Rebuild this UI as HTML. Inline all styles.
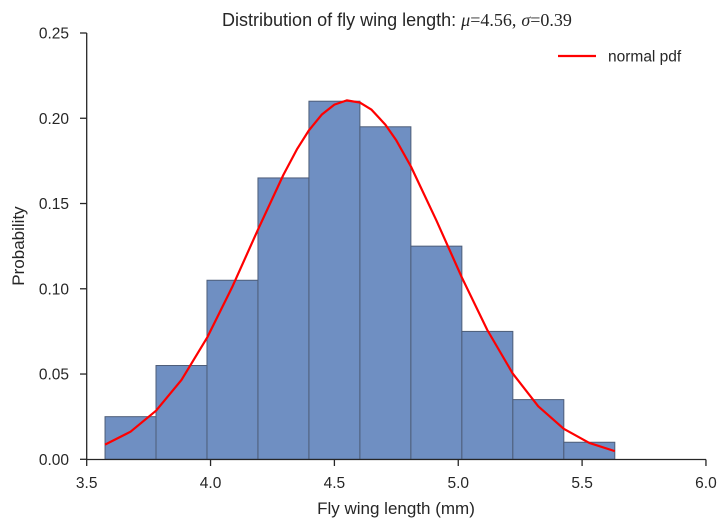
<!DOCTYPE html>
<html><head><meta charset="utf-8"><style>
body{margin:0;background:#fff;font-family:"Liberation Sans",sans-serif}
svg text{font-family:"Liberation Sans",sans-serif;fill:#262626}
</style></head><body>
<svg id="chart" width="727" height="527" xmlns="http://www.w3.org/2000/svg">
<g id="bars"></g>
<polyline id="pdf" fill="none" stroke="#ff0000" stroke-width="2.2" stroke-linejoin="round"/>
<line x1="86.7" y1="459.5" x2="706" y2="459.5" stroke="#262626" stroke-width="1.3"/>
<line x1="86.7" y1="33" x2="86.7" y2="459.5" stroke="#262626" stroke-width="1.3"/>
<g id="xt"></g>
<g id="yt"></g>
<text x="397" y="26" text-anchor="middle" font-size="18">Distribution of fly wing length: <tspan font-family="Liberation Serif" font-style="italic">μ</tspan><tspan font-family="Liberation Serif">=4.56,</tspan> <tspan font-family="Liberation Serif" font-style="italic">σ</tspan><tspan font-family="Liberation Serif">=0.39</tspan></text>
<text x="396" y="514" text-anchor="middle" font-size="17">Fly wing length (mm)</text>
<text transform="translate(24,246) rotate(-90)" text-anchor="middle" font-size="17">Probability</text>
<g>
<line x1="558" y1="56" x2="596" y2="56" stroke="#ff0000" stroke-width="2.2"/>
<text x="608" y="61.5" font-size="15.5">normal pdf</text>
</g>
</svg>
<script>
const binStart = 3.574;
const binWidth = 0.2058;
const binHeights = [0.025,0.055,0.105,0.165,0.21,0.195,0.125,0.075,0.035,0.01];
const curveX = [3.574,3.677,3.780,3.883,3.986,4.089,4.192,4.294,4.35,4.397,4.45,4.500,4.55,4.603,4.65,4.706,4.75,4.809,4.912,5.015,5.117,5.220,5.323,5.426,5.529,5.632];
const curveY = [0.0086,0.0162,0.0285,0.0466,0.0713,0.1015,0.1349,0.1668,0.1821,0.1929,0.2023,0.2080,0.2105,0.2092,0.2050,0.1962,0.1870,0.1717,0.1400,0.1065,0.0759,0.0503,0.0311,0.0179,0.0096,0.0048];
const xTicks = [3.5,4.0,4.5,5.0,5.5,6.0];
const xTickLabels = ["3.5","4.0","4.5","5.0","5.5","6.0"];
const yTicks = [0,0.05,0.10,0.15,0.20,0.25];
const yTickLabels = ["0.00","0.05","0.10","0.15","0.20","0.25"];
const NS="http://www.w3.org/2000/svg";
const xs=v=>86.7+(v-3.5)*247.7;
const ys=v=>459.3-v*1705.2;
const bars=document.getElementById('bars');
binHeights.forEach((h,i)=>{
  const r=document.createElementNS(NS,'rect');
  const x0=xs(binStart+i*binWidth), x1=xs(binStart+(i+1)*binWidth);
  r.setAttribute('x',x0);r.setAttribute('y',ys(h));
  r.setAttribute('width',x1-x0);r.setAttribute('height',ys(0)-ys(h));
  r.setAttribute('fill','#6f8fc2');r.setAttribute('stroke','#4d5d78');r.setAttribute('stroke-width','1');
  
  
  bars.appendChild(r);
});
document.getElementById('pdf').setAttribute('points',curveX.map((x,i)=>xs(x)+','+ys(curveY[i])).join(' '));
const xt=document.getElementById('xt');
xTicks.forEach((v,i)=>{
  const l=document.createElementNS(NS,'line');
  l.setAttribute('x1',xs(v));l.setAttribute('x2',xs(v));l.setAttribute('y1',459.5);l.setAttribute('y2',466);
  l.setAttribute('stroke','#262626');l.setAttribute('stroke-width','1.3');
  
  
  xt.appendChild(l);
  const t=document.createElementNS(NS,'text');
  t.setAttribute('x',xs(v));t.setAttribute('y',488);t.setAttribute('text-anchor','middle');t.setAttribute('font-size','15.5');
  t.textContent=xTickLabels[i];
  
  
  xt.appendChild(t);
});
const yt=document.getElementById('yt');
yTicks.forEach((v,i)=>{
  const l=document.createElementNS(NS,'line');
  l.setAttribute('x1',80);l.setAttribute('x2',86.7);l.setAttribute('y1',ys(v));l.setAttribute('y2',ys(v));
  l.setAttribute('stroke','#262626');l.setAttribute('stroke-width','1.3');
  
  
  yt.appendChild(l);
  const t=document.createElementNS(NS,'text');
  t.setAttribute('x',69);t.setAttribute('y',ys(v)+5.5);t.setAttribute('text-anchor','end');t.setAttribute('font-size','15.5');
  t.textContent=yTickLabels[i];
  
  
  yt.appendChild(t);
});
</script>
</body></html>
